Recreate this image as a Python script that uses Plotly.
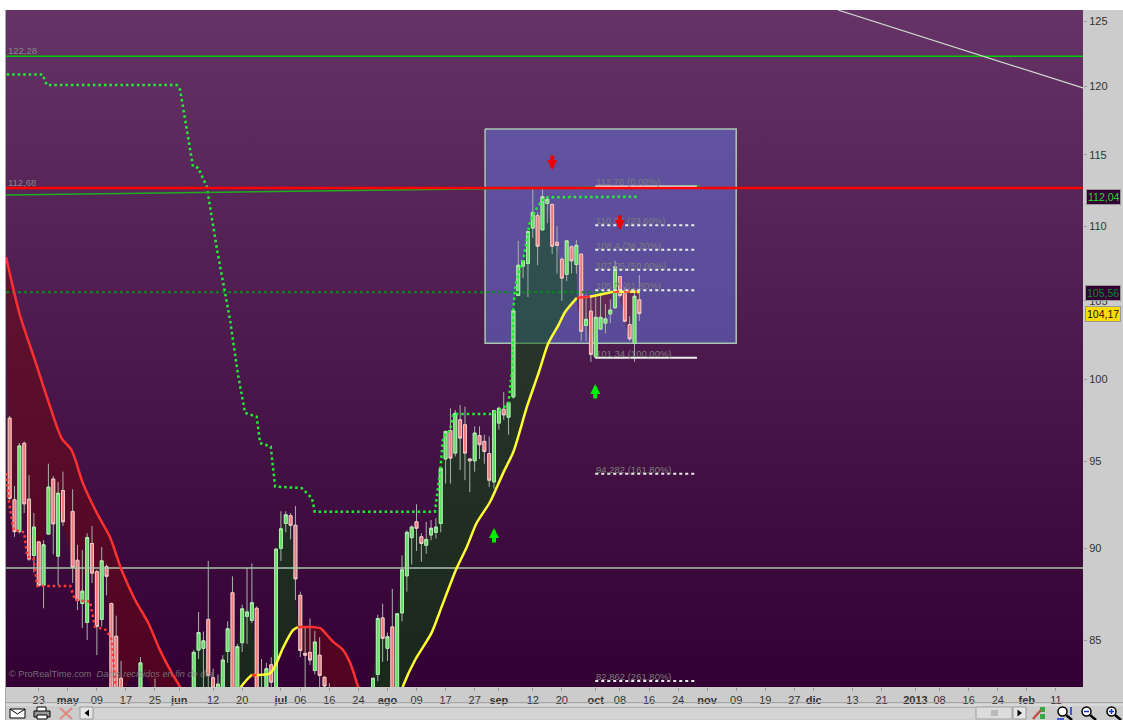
import math
import plotly.graph_objects as go

# ---------- data ----------
bar_idx = [0,1,2,3,4,5,6,7,8,9,10,11,13,14,15,16,17,18,19,20,21,22,23,27,30,
           38,39,40,41,42,43,44,45,46,47,48,49,50,51,52,53,54,55,56,57,58,59,60,61,62,63,64,65,66,
           75,76,77,78,79,80,81,82,83,84,85,86,87,88,89,90,91,92,93,94,95,96,97,98,99,100,101,102,103,
           104,105,106,107,108,109,110,111,112,113,114,115,116,117,118,119,120,121,122,123,124,125,126,127,128,129,130]
bar_open = [97.6,92.76,90.94,96.08,92.8,89.6,90.36,87.95,90.8,93.97,89.56,93.3,92.09,89.33,86.96,85.94,90.27,88.7,86.1,88.98,86.96,85.2,83,82.3,82.4,
            82.3,84.47,84.56,86.1,83.03,82.3,82.3,84.4,87.54,82.4,84.86,86.27,86.05,86.7,82.5,82.3,83.7,82.3,90,91.4,91.85,91.3,87.4,84.3,84.35,83.4,84.2,83.05,82.5,
            82.3,83.2,86.18,84.56,85.7,82.4,86.45,88.47,90.6,91.5,90.65,90.17,90.75,90.9,91.4,95.15,96.85,95.5,97.5,97.2,95.15,95.04,96.55,96.2,95.47,93.8,97.3,98.15,97.66,
            98.9,105.36,107.3,107.47,109.87,110.72,109.75,111.57,111.5,108.9,107.75,106.75,108.6,107.4,108.1,103.4,104.33,101.4,103.17,103.55,104.15,104.55,106.6,105.5,103.46,102.25,105.07]
bar_high = [97.74,93.56,96.1,96.2,94.2,92.0,90.36,90.46,94.87,94.14,93.8,94.4,93.37,90.2,89.9,90.84,91.26,88.8,90.07,89.1,87,86.3,83.9,84.1,83,
            84.47,86.5,85.45,89.3,83.5,83.2,84.2,86,88.44,84.8,86.9,88.9,89.15,86.8,84,83.8,84.1,90,92.1,92.1,92,92.4,87.6,85.7,86.15,85.5,85.15,83.1,82.75,
            83,86.35,86.95,85.4,87.75,86.4,89.6,91,91.3,92.5,90.85,91.5,91.6,91.7,94.6,96.8,98.2,98.1,98.4,98.3,95.2,97.1,97.1,96.6,96.5,98.1,98.3,99.2,98.6,
            104.4,109,107.7,109.7,112.7,110.95,112.69,112,111.57,110,107.9,109.05,108.7,109.05,108.1,105.4,105.35,105.25,105.47,104.8,105.1,107.65,106.6,105.9,104,105.7,106.7]
bar_low = [92.76,90.65,90.84,92,89.3,88.65,87.9,86.7,90.8,89.66,87.96,91.26,88.08,86.6,85.63,85,88.08,84.2,85.72,87.4,82,82,82,82,82,
           82,84,82,82.5,82,82,82,83.8,82,82,84.37,84.8,85.9,82,82,82,82.4,82,89.3,90.9,90.5,87.15,84.1,82,83.7,83.2,82.3,82.4,82,
           82,82.85,83.85,83.9,82,82,86,87.6,89.1,89.85,89.25,89.7,90.45,90.55,90.9,93.7,93.7,95.3,94.5,93.9,93.2,94.4,95.15,94.87,93.5,93.4,96.9,97.5,96.6,
           98.8,105.3,106.5,105.25,109.2,107.36,109.7,110.2,108.1,106.8,105,106.3,106.8,106.8,102.4,102.4,101.08,101.35,103.13,102.9,103.55,104.5,105.2,103.6,102.4,101.1,103.7]
bar_close = [92.85,90.94,95.93,92.53,89.4,91.2,87.93,90.2,93.5,91.38,93.14,91.5,88.93,87.12,87.63,90.6,88.62,85.72,89.3,88.44,82.3,82.4,82.2,83.8,82.2,
             84.35,85.4,84.96,83.15,82.5,82.7,83.95,85.6,82.4,84.65,86.67,86.5,87,82.3,82.2,83.5,82.8,89.95,91.1,91.9,91.3,88.3,84.45,84.2,83.95,84.9,83.15,82.6,82.3,
             83,86.15,85.09,85.18,82.4,86.4,88.8,90.9,91.2,91.13,90.27,90.5,91.13,91.2,94.6,96.8,95.2,97.9,96.4,95.5,95.04,96.7,96.0,95.6,93.9,98.07,98.2,97.8,98.55,
             104.37,107.36,107.65,109.64,110.95,108.64,112.04,111.87,108.64,108.7,106.5,109,107.65,108.7,103.03,103.8,101.56,103.93,103.93,103.83,104.4,107.25,105.35,103.68,102.55,105.3,104.17]

ma1_x = [-0.76,2.1,5.2,7.9,10.7,12.8,15.1,18,20.7,23.1,25.9,28.6,31,33.5,35.2,36]
ma1_y = [107.9,104.08,101.2,98.71,96.4,95.67,93.74,92.0,90.63,88.79,87.15,85.92,84.48,83.26,82.55,82.1]
ma2_x = [38,47,47.9,50,51,53.8,55.1,56.4,58.5,59.5,62.6,64.1,66.8,68.8,70.3,71.9,72.5]
ma2_y = [80.5,82.1,82.6,83.16,83.16,83.26,83.79,84.57,85.53,85.69,85.69,85.63,84.9,84.48,83.79,82.6,82.2]
ma3_x = [75,80.5,81.3,83.7,87.1,89.2,91.3,92.3,94.4,96.4,99.2,101.9,104,106.8,109.2,111.2,113.3,114.7,117.1,119.8,124.6,129.5,130]
ma3_y = [80,82.0,82.65,83.95,85.38,86.79,88.24,88.9,90.09,91.43,92.65,94.33,95.58,98.3,100.39,102.27,103.43,104.29,105.2,105.27,105.6,105.6,105.56]

stop_x = [-0.61,6.8,7.65,34.5,35.2,37.85,38.9,40.7,42.75,45.5,47.15,48.6,51,51.7,53.9,54.8,60.3,62.4,63,87.8,88.9,89.5,90.9,91.6,99.2,101.9,103,103.7,104,104.4,106.1,107.4,108.8,110.5,129.5]
stop_y = [120.91,120.91,120.11,120.11,119.74,114.15,114.08,112.74,108.52,103.75,100.27,97.92,97.69,96.1,95.89,93.53,93.44,92.86,92.08,92.08,94.5,96.47,96.87,97.85,97.85,98.21,98.53,100.58,104.54,106.04,107.84,110.31,111.25,112.0,112.04]
red_stop_x = [-0.6,-0.3,0.76,3,3.6,4.9,5.7,12.5,13.5,16.6,17.6,20,21.1,21.8]
red_stop_y = [94.33,92.94,91.04,90.9,89.53,89.44,87.91,87.91,87.15,87.06,85.71,85.53,85.0,82.57]

level_green_top = 122.28
level_red = 112.65
level_pale = 88.9
level_dot = 105.56
trend_x = [-0.76,142.5]
trend_y = [112.16,112.79]
diag_x = [171,221.6]
diag_y = [125.86,119.89]

box_x = [98.15,150,150,98.15,98.15]
box_y = [116.87,116.87,102.27,102.27,116.87]

fib_x = [120.9,141.9]
fib_values = [112.76,110.06,108.4,107.05,105.7,101.34,94.282,82.862]
fib_labels = ["112,76 (0,00%)","110,06 (23,60%)","108,4 (38,20%)","107,05 (50,00%)","105,7 (61,80%)","101,34 (100,00%)","94,282 (161,80%)","82,862 (261,80%)"]
fib_solid = [True,False,False,False,False,True,False,False]

up_x, up_y = [100,120.9], [90.69,99.2]
down_x, down_y = [112,126], [114.49,110.29]

tick_idx = [6,12,18,24,30,35,42,48,56,60,66,72,78,84,90,96,101,108,114,121,126,132,138,144,150,156,162,166,174,180,187,192,198,204,210,216]
tick_txt = ["23","<b>may</b>","09","17","25","<b>jun</b>","12","20","<b>jul</b>","06","16","24","<b>ago</b>","09","17","27","<b>sep</b>","12","20","<b>oct</b>","08","16","24","<b>nov</b>","09","19","27","<b>dic</b>","13","21","<b>2013</b>","08","16","24","<b>feb</b>","11"]
price_ticks = [85,90,95,100,105,110,115,120,125]

x_range = [-0.76,221.6]
y_low, y_high = 82.55, 125.86
y_range = [math.log10(y_low),math.log10(y_high)]

# ---------- geometry helpers for the window chrome ----------
L,R,T,B = 6,1083,10,687
def px(x): return (x-L)/(R-L)
def py(y): return (B-y)/(B-T)
def rect(x0,y0,x1,y1,fill="rgba(0,0,0,0)",line=None,w=1,layer="above"):
    return dict(type="rect",xref="paper",yref="paper",x0=px(x0),x1=px(x1),y0=py(y0),y1=py(y1),
                fillcolor=fill,line=dict(color=line or "rgba(0,0,0,0)",width=w if line else 0),layer=layer)
def seg(x0,y0,x1,y1,color="black",w=1,layer="above"):
    return dict(type="line",xref="paper",yref="paper",x0=px(x0),x1=px(x1),y0=py(y0),y1=py(y1),
                line=dict(color=color,width=w),layer=layer)
def circ(x0,y0,x1,y1,fill,line,w=1.5):
    return dict(type="circle",xref="paper",yref="paper",x0=px(x0),x1=px(x1),y0=py(y0),y1=py(y1),
                fillcolor=fill,line=dict(color=line,width=w),layer="above")

shapes = []
shapes.append(rect(0,0,1123,10,"white",layer="below"))
shapes.append(rect(0,0,5,720,"white",layer="below"))
shapes.append(seg(5.5,10,5.5,720,"#a8a8a8",1,"below"))
# bottom toolbar
shapes += [seg(6,702.5,1123,702.5,"#a6a6a6",1),seg(6,705,1123,705,"#e4e4e4",1),
           rect(94,707,975,719,"#d4d4d4"),seg(94,707.5,975,707.5,"#b4b4b4",1),
           rect(80,707,93,719,"#e6e6e6","#9a9a9a"),
           dict(type="path",xref="paper",yref="paper",line=dict(width=0),fillcolor="black",layer="above",
                path=f"M {px(84.5)} {py(713)} L {px(89)} {py(709.5)} L {px(89)} {py(716.5)} Z"),
           rect(976,707,1012,719,"#dcdcdc","#a4a4a4"),seg(991,711,998,711,"#9a9a9a"),seg(991,713,998,713,"#9a9a9a"),seg(991,715,998,715,"#9a9a9a"),
           rect(1013,707,1026,719,"#e6e6e6","#9a9a9a"),
           dict(type="path",xref="paper",yref="paper",line=dict(width=0),fillcolor="black",layer="above",
                path=f"M {px(1022)} {py(713)} L {px(1017.5)} {py(709.5)} L {px(1017.5)} {py(716.5)} Z"),
           # envelope
           rect(10,709,25,718,"white","black"),seg(10,709,17.5,714,"black"),seg(25,709,17.5,714,"black"),
           # printer
           rect(37,707,46,712,"white","black"),rect(34,711,50,717,"#999999","black"),rect(37,715,47,719,"white","black"),
           # crossed icon
           seg(60,708,72,719,"#e08a80",2),seg(72,708,60,719,"#e08a80",2),
           # wrench / indicators
           rect(1040,707,1045,712,"#33aa44"),rect(1040,714,1045,719,"#33aa44"),seg(1033,719,1041,710,"#c05040",2.5),
           # magnifiers
           circ(1058,707,1067,716,"white","black"),seg(1066,715,1072,720,"black",2.5),
           seg(1071,707,1071,715,"#1133dd",1.5),seg(1057,719,1064,719,"#1133dd",1.5),
           circ(1082,707,1091,716,"white","black"),seg(1090,715,1096,720,"black",2.5),seg(1084,711.5,1089,711.5,"#1133dd",1.5),
           circ(1107,707,1116,716,"white","black"),seg(1115,715,1121,720,"black",2.5),seg(1109,711.5,1114,711.5,"#1133dd",1.5),seg(1111.5,709,1111.5,714,"#1133dd",1.5)]

fig = go.Figure()

# background gradient
fig.add_trace(go.Scatter(x=[x_range[0],x_range[1],x_range[1],x_range[0],x_range[0]],
                         y=[y_low,y_low,y_high,y_high,y_low],mode="lines",line=dict(width=0),fill="toself",
                         fillgradient=dict(type="vertical",colorscale=[[0,"#330033"],[1,"#663366"]]),
                         hoverinfo="skip",showlegend=False))

def closes_between(a,b):
    pts = [(i,c) for i,c in zip(bar_idx,bar_close) if a<=i<=b]
    return pts[::-1]

def fill_trace(xs,ys,a,b,color):
    pts = closes_between(a,b)
    fig.add_trace(go.Scatter(x=list(xs)+[p[0] for p in pts]+[xs[0]],y=list(ys)+[p[1] for p in pts]+[ys[0]],
                             mode="lines",line=dict(width=0),fill="toself",fillcolor=color,hoverinfo="skip",showlegend=False))

GREEN_FILL = "rgba(2,80,6,0.5)"
RED_FILL = "rgba(110,6,15,0.5)"

# Fibonacci box
fig.add_trace(go.Scatter(x=box_x,y=box_y,mode="lines",line=dict(color="#a9c6b4",width=1.5),fill="toself",
                         fillcolor="rgba(101,123,225,0.5)",hoverinfo="skip",showlegend=False))
# regime clouds
fill_trace(ma1_x+[36],ma1_y+[82.1],0,35,RED_FILL)
fill_trace(ma2_x[:10],ma2_y[:10],38,59,GREEN_FILL)
fill_trace(ma2_x[9:],ma2_y[9:],60,67,RED_FILL)
fill_trace(ma3_x[:19],ma3_y[:19],75,117,GREEN_FILL)
fill_trace(ma3_x[18:],ma3_y[18:],118,130,RED_FILL)

over = dict(xaxis="x2",yaxis="y2",showlegend=False,hoverinfo="skip")

def hline(x,y,color,w,dash="solid",smooth=False):
    ln = dict(color=color,width=w,dash=dash)
    if smooth:
        ln.update(shape="spline",smoothing=0.7)
    fig.add_trace(go.Scatter(x=x,y=y,mode="lines",line=ln,**over))

# dotted level drawn under the candles
hline([x_range[0],130],[level_dot,level_dot],"#0a8a1e",2,"3px,3px")
hline(x_range,[level_pale,level_pale],"#a9c6a9",1.5)

# candles: wicks first, then bodies with pale border
fig.add_trace(go.Candlestick(x=bar_idx,open=bar_open,high=bar_high,low=bar_low,close=bar_close,
                             whiskerwidth=0,xaxis="x2",yaxis="y2",showlegend=False,hoverinfo="skip",
                             increasing=dict(line=dict(color="#a7b3a7",width=1),fillcolor="#5fe05f"),
                             decreasing=dict(line=dict(color="#a7b3a7",width=1),fillcolor="#f07878")))
body_hi = [max(o,c) for o,c in zip(bar_open,bar_close)]
body_lo = [min(o,c) for o,c in zip(bar_open,bar_close)]
fig.add_trace(go.Candlestick(x=bar_idx,open=bar_open,high=body_hi,low=body_lo,close=bar_close,
                             whiskerwidth=0,xaxis="x2",yaxis="y2",showlegend=False,hoverinfo="skip",
                             increasing=dict(line=dict(color="#b4eab4",width=1),fillcolor="#5fe05f"),
                             decreasing=dict(line=dict(color="#f0c8c8",width=1),fillcolor="#f07878")))

# stops
hline(stop_x,stop_y,"#22ee33",2.5,"2.5px,3px")
hline(red_stop_x,red_stop_y,"#ff3838",2.5,"2.5px,3px")

# moving average, coloured by regime
YEL,RED = "#ffff33","#ff3030"
hline(ma1_x,ma1_y,RED,2.5,smooth=True)
hline(ma2_x[:10],ma2_y[:10],YEL,2.5,smooth=True)
hline(ma2_x[3:5],ma2_y[3:5],RED,2.5)
hline(ma2_x[9:],ma2_y[9:],RED,2.5,smooth=True)
hline(ma3_x[:19],ma3_y[:19],YEL,2.5,smooth=True)
hline(ma3_x[18:20],ma3_y[18:20],RED,2.5)
hline(ma3_x[19:],ma3_y[19:],YEL,2.5)
hline(ma3_x[20:22],ma3_y[20:22],RED,2,"6px,5px")

# levels
hline(x_range,[level_green_top,level_green_top],"#00cc00",1.5)
hline(trend_x,trend_y,"#1fae1f",1.5)
hline(diag_x,diag_y,"#cfdccf",1.2)

# fibonacci levels
for v,s in zip(fib_values,fib_solid):
    hline(fib_x,[v,v],"#e8efe8",2,"solid" if s else "3px,3px")
hline(x_range,[level_red,level_red],"#ff0000",2.5)

def tag(text,y,bg,fg):
    return dict(xref="paper",yref="paper",x=px(1103),y=py(y),xanchor="center",yanchor="middle",text=text,showarrow=False,bgcolor=bg,
                bordercolor="#999999",borderwidth=1,borderpad=1,font=dict(family="Liberation Sans",size=10.5,color=fg))

def chart_label(x,v,text,color,size,lift=4.5):
    return dict(xref="x2",yref="y2",x=x,y=math.log10(v),xanchor="left",yanchor="middle",yshift=lift,text=text,showarrow=False,
                font=dict(family="Liberation Sans",size=size,color=color))

def block_arrow(x,v,color,pointing_up):
    s = 1 if pointing_up else -1
    return dict(xref="x2",yref="y2",x=x,y=math.log10(v),axref="pixel",ayref="pixel",ax=0,ay=s*16,yshift=s*8,text="",showarrow=True,
                arrowhead=2,arrowsize=0.5,arrowwidth=4,arrowcolor=color,standoff=0,startstandoff=0)

annotations = [
    tag("112,04",197,"#330033","#22dd33"),
    tag("105,56",293,"#330033","#0a8a2e"),
    tag("104,17",314,"#ffdd00","#111111"),
    dict(xref="paper",yref="paper",x=px(7),y=py(681),xanchor="left",text="© ProRealTime.com  <i>Datos recibidos en fin de día</i>",
         showarrow=False,font=dict(family="Liberation Sans",size=9.2,color="rgba(130,130,130,0.85)")),
]
annotations += [chart_label(fib_x[0]-0.2,v,t,"#7c7c7c",9.5) for v,t in zip(fib_values,fib_labels)]
annotations += [chart_label(x_range[0]+0.05,level_green_top,"122,28","#858585",9.5,6),
                chart_label(x_range[0]+0.05,level_red,"112,68","#858585",9.5,5.5)]
annotations += [block_arrow(x,v,"#00ee00",True) for x,v in zip(up_x,up_y)]
annotations += [block_arrow(x,v,"#ee0000",False) for x,v in zip(down_x,down_y)]

axis_font = dict(family="Liberation Sans",size=11,color="#333333")
fig.update_layout(
    width=1123,height=720,autosize=False,
    margin=dict(l=L,r=1123-R,t=T,b=720-B,pad=0),
    paper_bgcolor="#cccccc",plot_bgcolor="rgba(0,0,0,0)",boxgap=0.15,
    showlegend=False,shapes=shapes,annotations=annotations,
    xaxis=dict(range=x_range,tickmode="array",tickvals=tick_idx,ticktext=tick_txt,showgrid=False,zeroline=False,
               ticks="outside",ticklen=3,tickcolor="#999999",tickfont=axis_font,showline=False,tickangle=0),
    yaxis=dict(type="log",range=y_range,side="right",tickmode="array",tickvals=price_ticks,ticktext=[str(t) for t in price_ticks],
               showgrid=False,zeroline=False,ticks="outside",ticklen=3,tickcolor="#999999",tickfont=axis_font,showline=False),
    xaxis2=dict(range=x_range,overlaying="x",anchor="y2",visible=False,rangeslider=dict(visible=False)),
    yaxis2=dict(type="log",range=y_range,overlaying="y",anchor="x2",side="right",visible=False),
)
fig.write_html("out.html",config=dict(displayModeBar=False),post_script="document.body.style.margin='0';document.body.style.overflow='hidden';")
